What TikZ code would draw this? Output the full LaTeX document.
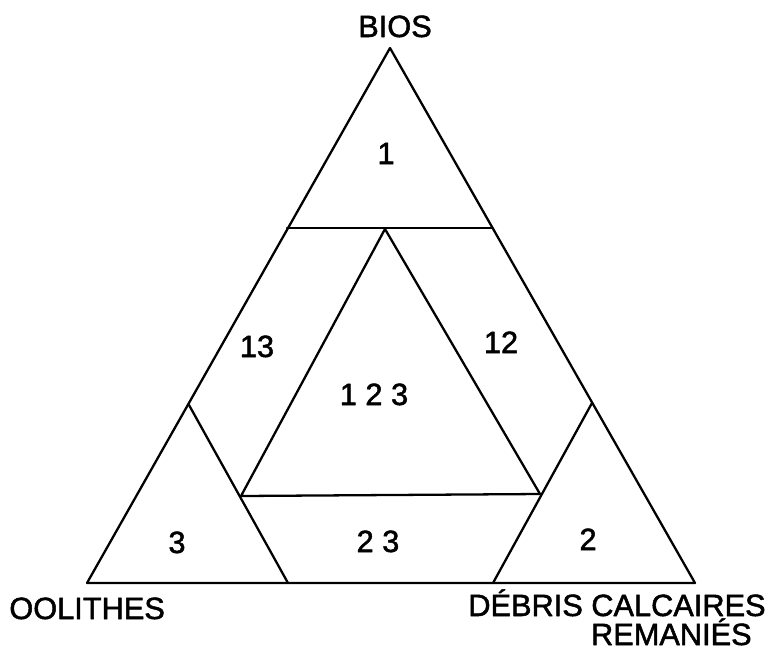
\documentclass[tikz,border=0pt]{standalone}
\usepackage{fontspec}
\newfontfamily\lblfont[FakeBold=1.6]{Liberation Sans}
\usetikzlibrary{positioning}

\begin{document}
\begin{tikzpicture}[
  x=0.02cm, y=-0.02cm, line join=round, line cap=round,
  edge/.style={draw=black, line width=1.3pt},
  lbl/.style={font=\lblfont\fontsize{17.5}{20}\selectfont, inner sep=0pt},
  zone/.style={font=\lblfont\fontsize{17.5}{20}\selectfont, inner sep=0pt,
               anchor=base}]

\useasboundingbox (0,0) rectangle (767,650);

% corners of the diagram
\coordinate (bios) at (390,48);
\coordinate (ool) at (87,583);
\coordinate (deb) at (695,583);
% cut points on the sides
\coordinate (cutL) at (287,228);
\coordinate (cutR) at (492,228);
\coordinate (smL) at (189,405);
\coordinate (smLb) at (288,583);
\coordinate (smR) at (592,403);
\coordinate (smRb) at (493,583);
% inner triangle
\coordinate (in1) at (385,229);
\coordinate (in3) at (241,496);
\coordinate (in2) at (540,494);

\draw[edge] (bios) -- (ool) -- (deb) -- cycle;
\draw[edge] (cutL) -- (cutR);
\draw[edge] (smL) -- (smLb);
\draw[edge] (smR) -- (smRb);
\draw[edge] (in1) -- (in3) -- (in2) -- cycle;

\node[lbl, anchor=base] (tBios) at (395,37) {BIOS};
\node[lbl, anchor=base west] (tOol) at (9,619) {OOLITHES};
\node[lbl, anchor=base east] (tDeb) at (766,616) {DÉBRIS CALCAIRES};
\node[lbl, anchor=base east] (tRem) at (752,645) {REMANIÉS};

\node[zone] (z1) at (386,164) {1};
\node[zone] (z13) at (257,357) {13};
\node[zone] (z12) at (501,353) {12};
\node[zone] (z123) at (374,405) {1 2 3};
\node[zone] (z3) at (177,553) {3};
\node[zone] (z23) at (378,552) {2 3};
\node[zone] (z2) at (588,550) {2};

\end{tikzpicture}
\end{document}
